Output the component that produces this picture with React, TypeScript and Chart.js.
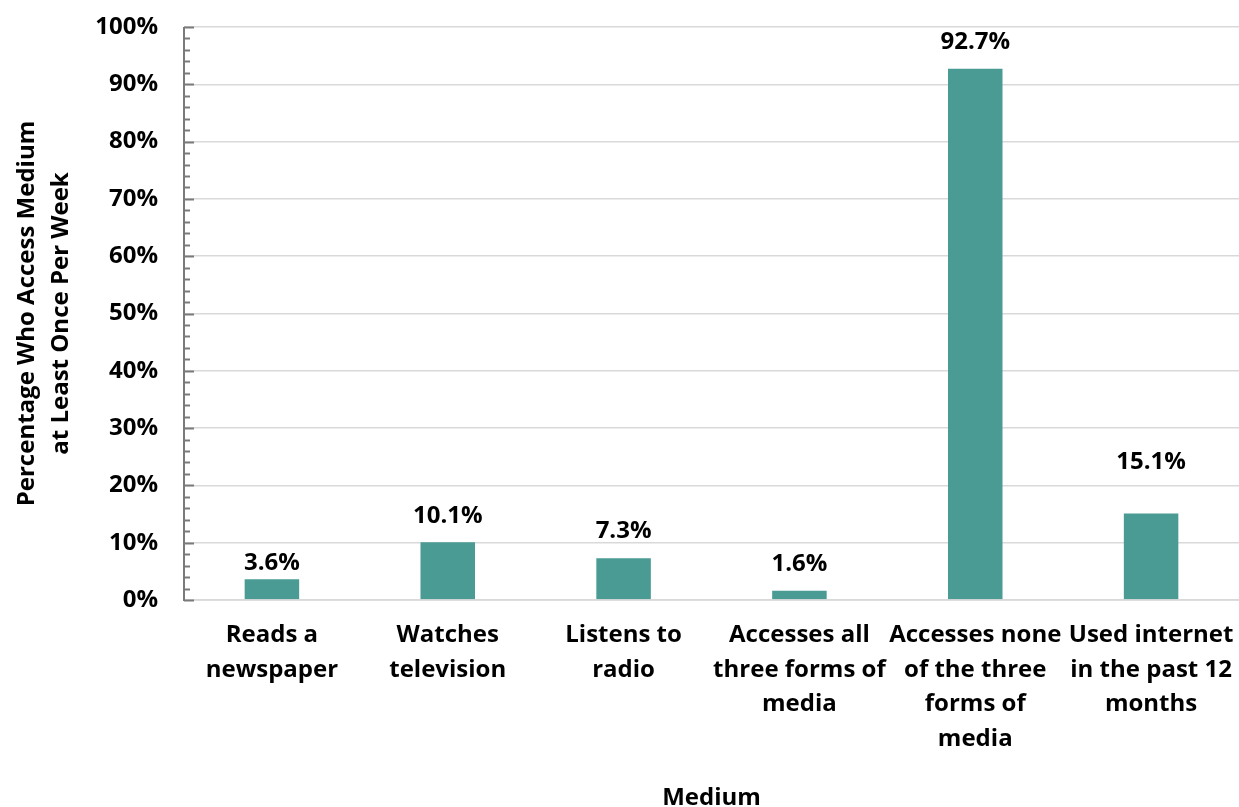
import React, { useEffect, useRef } from "react";
import { Chart, registerables } from "chart.js";

Chart.register(...registerables);

const categories: string[][] = [
  ["Reads a", "newspaper"],
  ["Watches", "television"],
  ["Listens to", "radio"],
  ["Accesses all", "three forms of", "media"],
  ["Accesses none", "of the three", "forms of", "media"],
  ["Used internet", "in the past 12", "months"],
];
const values: number[] = [3.6, 10.1, 7.3, 1.6, 92.7, 15.1];
const yTitle: string[] = ["Percentage Who Access Medium", "at Least Once Per Week"];
const xTitle = "Medium";

// style: vertical gap (px) between each bar top and its value label centre
const labelGaps: number[] = [16, 26, 27, 27, 27, 51];

const FONT = "'Open Sans', 'Liberation Sans', sans-serif";
const SIZE = 24;
const BAR = "#4a9b94";

const decor = {
  id: "decor",
  afterDatasetsDraw(chart: any) {
    const ctx = chart.ctx;
    const y = chart.scales.y;
    const area = chart.chartArea;
    ctx.save();
    ctx.strokeStyle = "#d9d9d9";
    ctx.lineWidth = 1.5;
    ctx.beginPath();
    ctx.moveTo(area.left, y.getPixelForValue(0));
    ctx.lineTo(area.right, y.getPixelForValue(0));
    ctx.stroke();
    ctx.strokeStyle = "#7a7a7a";
    ctx.lineWidth = 2;
    ctx.beginPath();
    ctx.moveTo(area.left, y.getPixelForValue(100));
    ctx.lineTo(area.left, y.getPixelForValue(0) + 1);
    ctx.stroke();
    for (let v = 0; v <= 100; v += 2) {
      const py = Math.round(y.getPixelForValue(v)) + 0.5;
      const len = v % 10 === 0 ? 10 : 6;
      ctx.beginPath();
      ctx.moveTo(area.left, py);
      ctx.lineTo(area.left + len, py);
      ctx.stroke();
    }
    const meta = chart.getDatasetMeta(0);
    ctx.fillStyle = "#000";
    ctx.font = `bold ${SIZE}px ${FONT}`;
    ctx.textAlign = "center";
    ctx.textBaseline = "middle";
    meta.data.forEach((bar: any, i: number) => {
      ctx.fillText(values[i].toFixed(1) + "%", bar.x, bar.y - labelGaps[i]);
    });
    ctx.restore();
  },
};

export default function App() {
  const ref = useRef<HTMLCanvasElement>(null);
  useEffect(() => {
    document.body.style.margin = "0";
    const chart = new Chart(ref.current!, {
      type: "bar",
      data: {
        labels: categories,
        datasets: [
          {
            data: values,
            backgroundColor: BAR,
            categoryPercentage: 1,
            barPercentage: 0.31,
          },
        ],
      },
      options: {
        animation: false,
        responsive: false,
        maintainAspectRatio: false,
        layout: { padding: { top: 27, right: 0, left: 0, bottom: 0 } },
        plugins: { legend: { display: false }, tooltip: { enabled: false } },
        scales: {
          x: {
            grid: { display: false, drawTicks: false },
            border: { display: false },
            afterFit: (s: any) => {
              s.height = 207;
              s.paddingLeft = 0;
              s.paddingRight = 0;
            },
            ticks: {
              color: "#000",
              font: { family: FONT, size: SIZE, weight: "bold", lineHeight: 1.44 },
              padding: 18,
              maxRotation: 0,
              autoSkip: false,
            },
            title: {
              display: true,
              text: xTitle,
              color: "#000",
              font: { family: FONT, size: SIZE, weight: "bold", lineHeight: 0.75 },
              padding: { top: 0, bottom: 0 },
            },
          },
          y: {
            min: 0,
            max: 100,
            afterFit: (s: any) => {
              s.width = 184;
              s.paddingTop = 0;
              s.paddingBottom = 0;
            },
            grid: {
              drawTicks: false,
              color: (c: any) => (c.tick && c.tick.value % 10 === 0 ? "#d9d9d9" : "rgba(0,0,0,0)"),
              lineWidth: 1.5,
            },
            border: { display: false },
            ticks: {
              stepSize: 2,
              autoSkip: false,
              padding: 26,
              color: "#000",
              font: { family: FONT, size: SIZE, weight: "bold" },
              callback: (v: any) => (Number(v) % 10 === 0 ? v + "%" : ""),
            },
            title: {
              display: true,
              text: yTitle,
              color: "#000",
              font: { family: FONT, size: SIZE, weight: "bold", lineHeight: 1.42 },
              padding: { top: 10, bottom: 0 },
            },
          },
        },
      },
      plugins: [decor],
    });
    return () => chart.destroy();
  }, []);
  return (
    <div style={{ width: 1239, height: 807 }}>
      <canvas ref={ref} width={1239} height={807} style={{ display: "block" }} />
    </div>
  );
}
